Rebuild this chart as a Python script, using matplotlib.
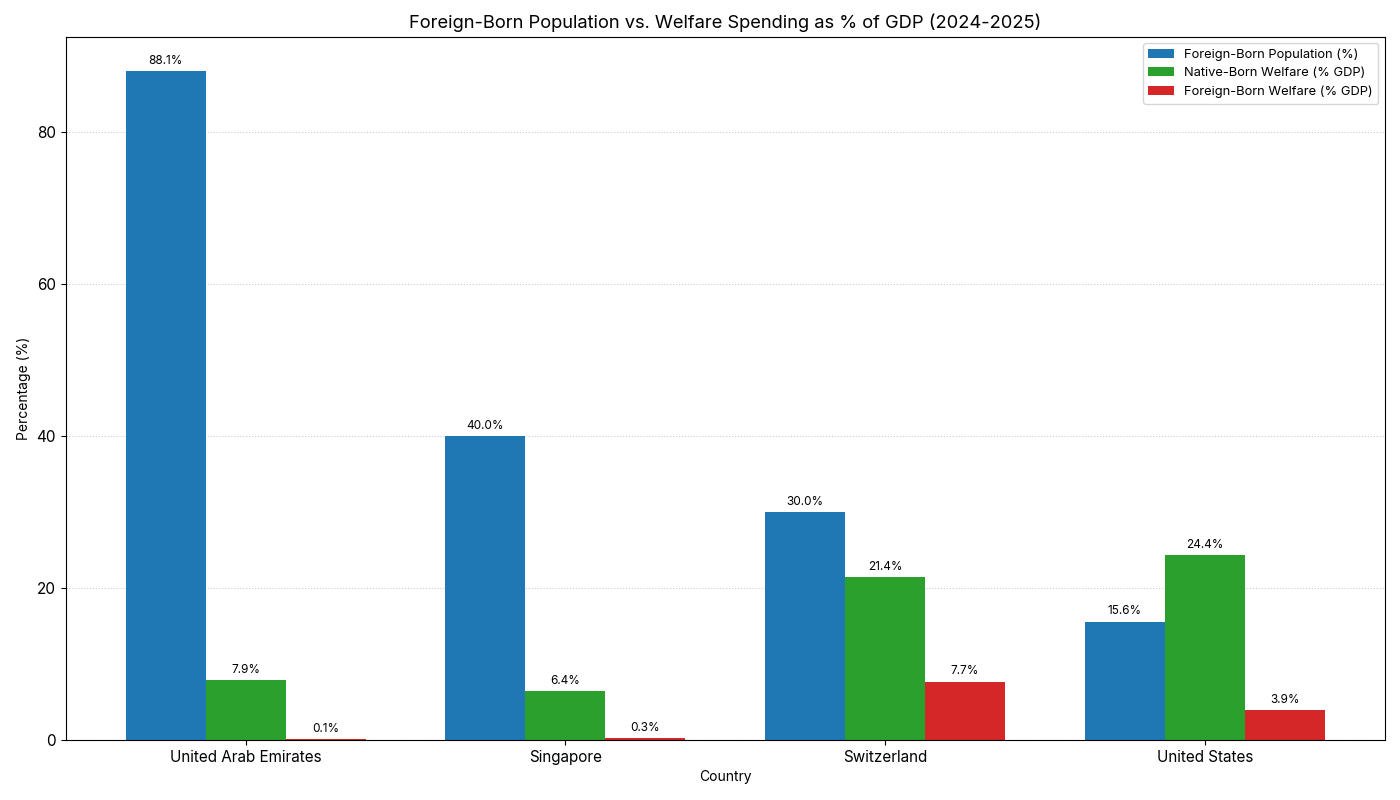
import matplotlib
matplotlib.use("Agg")
import matplotlib.pyplot as plt
import numpy as np

plt.rcParams['font.family'] = ['Inter', 'DejaVu Sans']

countries = ["United Arab Emirates", "Singapore", "Switzerland", "United States"]
foreign_pop = [88.1, 40.0, 30.0, 15.6]
native_welfare = [7.9, 6.4, 21.4, 24.4]
foreign_welfare = [0.1, 0.3, 7.7, 3.9]

series = [
    ("Foreign-Born Population (%)", foreign_pop, "#1f77b4"),
    ("Native-Born Welfare (% GDP)", native_welfare, "#2ca02c"),
    ("Foreign-Born Welfare (% GDP)", foreign_welfare, "#d62728"),
]

fig, ax = plt.subplots(figsize=(14, 8), dpi=100)
x = np.arange(len(countries))
w = 0.25
for i, (label, vals, color) in enumerate(series):
    bars = ax.bar(x + (i - 1) * w, vals, w, label=label, color=color)
    ax.bar_label(bars, labels=[f"{v:.1f}%" for v in vals], padding=3, fontsize=8.5)

ax.set_xticks(x)
ax.set_xticklabels(countries, fontsize=11)
ax.tick_params(axis='y', labelsize=11)
ax.set_xlabel("Country", fontsize=10)
ax.set_ylabel("Percentage (%)", fontsize=10)
ax.set_title("Foreign-Born Population vs. Welfare Spending as % of GDP (2024-2025)", fontsize=13.2)
ax.set_ylim(0, 92.6)
ax.yaxis.grid(True, linestyle=':', color='#cccccc', linewidth=0.8)
ax.set_axisbelow(True)
ax.legend(loc='upper right', fontsize=9.3)

fig.subplots_adjust(left=0.047, right=0.989, top=0.954, bottom=0.075)
fig.savefig("out.png", dpi=100)
